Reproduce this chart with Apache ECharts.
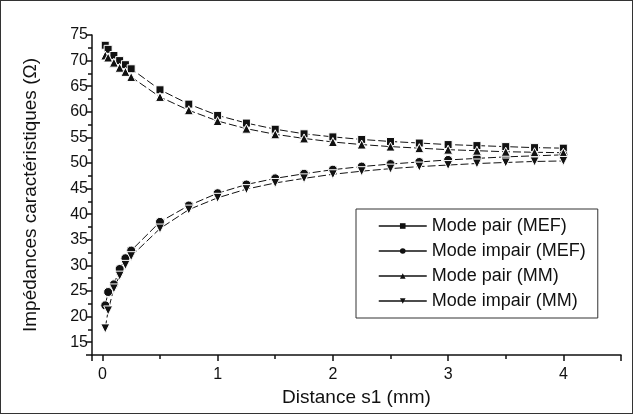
<!DOCTYPE html>
<html>
<head>
<meta charset="utf-8">
<script src="https://cdn.jsdelivr.net/npm/echarts@6/dist/echarts.min.js"></script>
<style>
  html, body { margin: 0; padding: 0; background: #fff; }
  #chart { width: 633px; height: 414px; box-sizing: border-box; border: 1px solid #333; }
</style>
</head>
<body>
<div id="chart"></div>
<script>
  // distance s1 (mm)
  const distances = [0.025, 0.05, 0.1, 0.15, 0.2, 0.25, 0.5, 0.75, 1.0, 1.25, 1.5, 1.75,
                     2.0, 2.25, 2.5, 2.75, 3.0, 3.25, 3.5, 3.75, 4.0];

  // impedances (ohm)
  const pairMEF   = [73.0, 72.2, 71.0, 70.0, 69.2, 68.4, 64.3, 61.5, 59.3, 57.8, 56.6, 55.7,
                     55.1, 54.6, 54.2, 53.9, 53.6, 53.4, 53.2, 53.0, 52.9];
  const impairMEF = [22.2, 24.8, 26.3, 29.3, 31.4, 32.9, 38.5, 41.7, 44.1, 45.8, 47.0, 47.9,
                     48.7, 49.3, 49.8, 50.2, 50.6, 50.9, 51.2, 51.4, 51.6];
  const pairMM    = [71.0, 70.6, 69.6, 68.6, 67.8, 66.8, 62.9, 60.3, 58.2, 56.7, 55.6, 54.8,
                     54.1, 53.6, 53.2, 52.9, 52.6, 52.4, 52.2, 52.1, 52.0];
  const impairMM  = [17.7, 21.2, 25.5, 28.0, 30.1, 31.8, 37.2, 40.9, 43.2, 44.9, 46.1, 47.0,
                     47.8, 48.4, 48.9, 49.3, 49.6, 49.9, 50.1, 50.3, 50.4];

  const seriesNames = ['Mode pair (MEF)', 'Mode impair (MEF)', 'Mode pair (MM)', 'Mode impair (MM)'];

  const font = 'Liberation Sans, Arial, sans-serif';
  const ink = '#111';

  const chart = echarts.init(document.getElementById('chart'));

  const pts = (ys) => distances.map((x, i) => [x, ys[i]]);

  const mkSeries = (name, ys, symbol, size, rotate) => ({
    name: name,
    type: 'line',
    data: pts(ys),
    symbol: symbol,
    symbolSize: size,
    symbolRotate: rotate || 0,
    showSymbol: true,
    lineStyle: { color: ink, width: 1, type: [8, 3] },
    itemStyle: { color: ink, borderColor: '#fff', borderWidth: 1 },
    emphasis: { disabled: true },
    animation: false
  });

  const option = {
    animation: false,
    grid: { left: 91, right: 11, top: 34, bottom: 58, containLabel: false },
    legend: {
      orient: 'vertical',
      left: 355,
      top: 208,
      padding: [8, 12, 8, 22],
      itemGap: 7,
      itemWidth: 48,
      itemHeight: 7,
      borderColor: '#333',
      borderWidth: 1,
      backgroundColor: '#fff',
      itemStyle: { borderWidth: 0 },
      lineStyle: { type: 'solid', width: 1.5 },
      textStyle: { fontFamily: font, fontSize: 18, color: ink },
      data: seriesNames
    },
    xAxis: {
      type: 'value',
      min: -0.09,
      max: 4.5,
      splitNumber: 5,
      name: 'Distance s1 (mm)',
      nameLocation: 'middle',
      nameGap: 30,
      nameTextStyle: { fontFamily: font, fontSize: 19, color: ink },
      axisLine: { show: true, onZero: false, lineStyle: { color: ink, width: 1.5 } },
      axisTick: { show: true, inside: false, length: 6, lineStyle: { color: ink, width: 1.5 } },
      minorTick: { show: true, splitNumber: 2, length: 4, lineStyle: { color: ink, width: 1.5 } },
      splitLine: { show: false },
      axisLabel: {
        fontFamily: font, fontSize: 16, color: ink, margin: 12,
        formatter: (v) => (Math.abs(v - Math.round(v)) < 1e-6 ? String(Math.round(v)) : '')
      }
    },
    yAxis: {
      type: 'value',
      min: 12.5,
      max: 75,
      splitNumber: 12,
      name: 'Impédances caractéristiques (Ω)',
      nameLocation: 'middle',
      nameGap: 52,
      nameTextStyle: { fontFamily: font, fontSize: 19, color: ink },
      axisLine: { show: true, onZero: false, lineStyle: { color: ink, width: 1.5 } },
      axisTick: { show: true, inside: false, length: 6, lineStyle: { color: ink, width: 1.5 } },
      minorTick: { show: true, splitNumber: 2, length: 4, lineStyle: { color: ink, width: 1.5 } },
      splitLine: { show: false },
      axisLabel: {
        fontFamily: font, fontSize: 16, color: ink, margin: 4,
        formatter: (v) => (Math.abs(v / 5 - Math.round(v / 5)) < 1e-6 ? String(v) : '')
      }
    },
    series: [
      mkSeries(seriesNames[0], pairMEF, 'rect', 8),
      mkSeries(seriesNames[1], impairMEF, 'circle', 9),
      mkSeries(seriesNames[2], pairMM, 'triangle', 9),
      mkSeries(seriesNames[3], impairMM, 'triangle', 9, 180)
    ]
  };

  chart.setOption(option);
</script>
</body>
</html>
